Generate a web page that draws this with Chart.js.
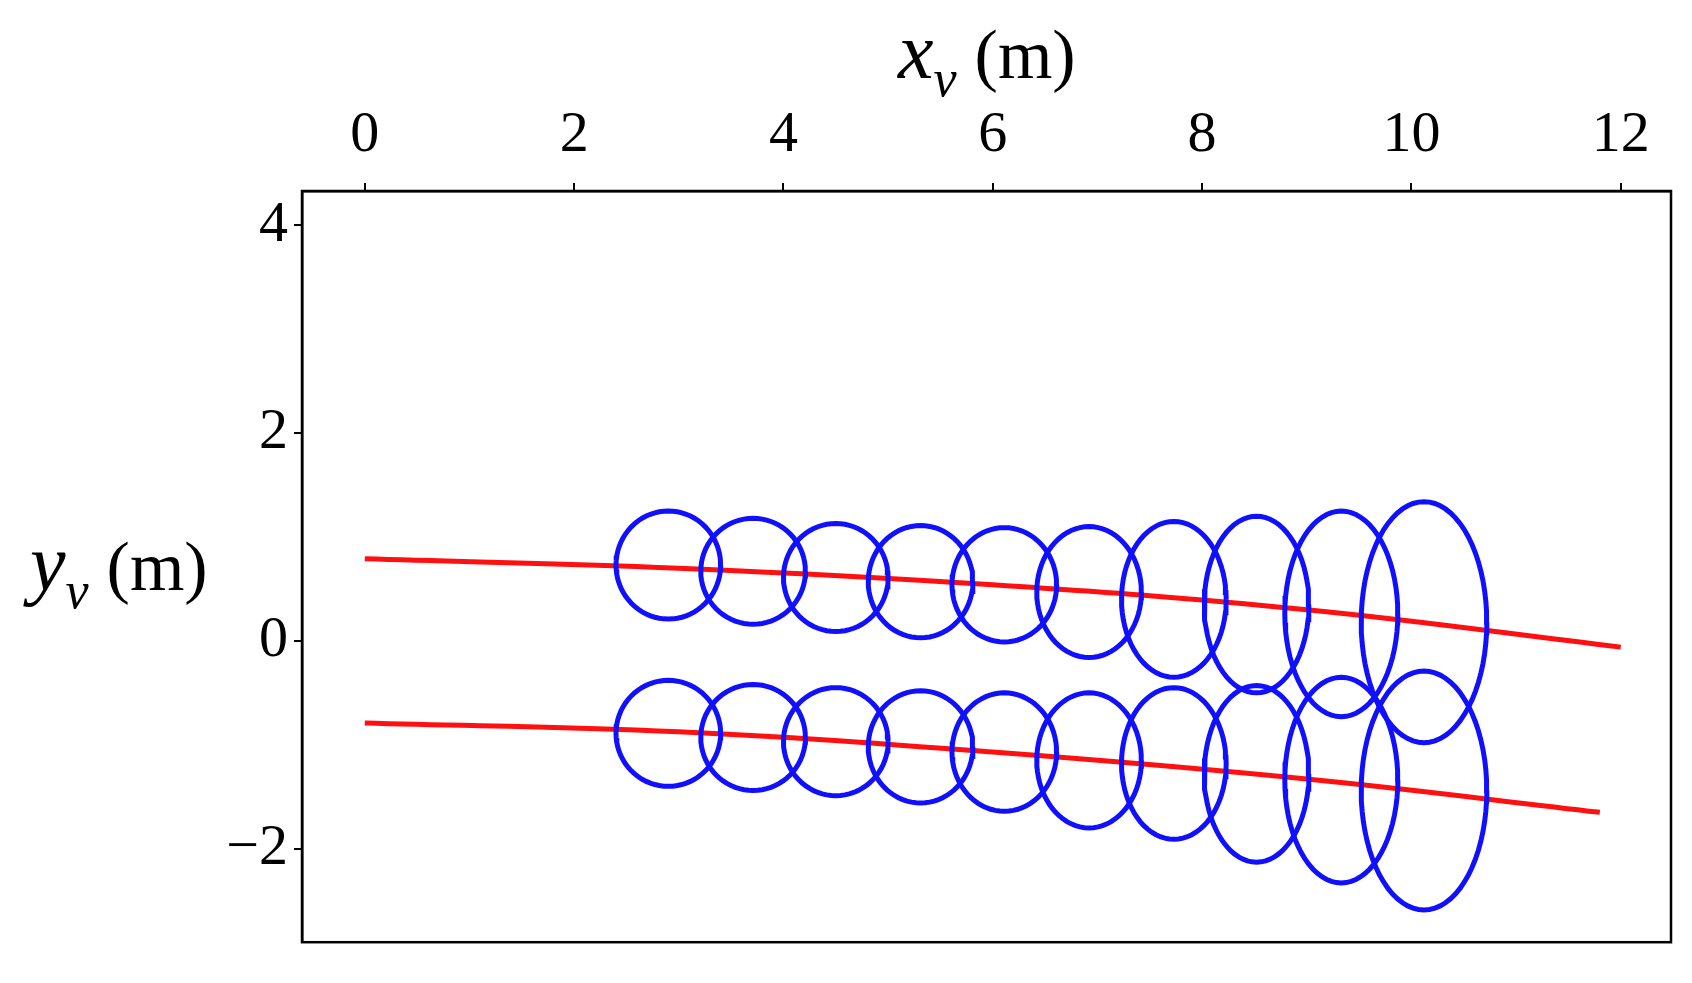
<!DOCTYPE html>
<html><head><meta charset="utf-8">
<script src="https://cdn.jsdelivr.net/npm/chart.js@4"></script>
<style>html,body{margin:0;background:#fff}#c{display:block}</style>
</head><body>
<canvas id="c" width="1692" height="983"></canvas>
<script>
// ellipse centres and half-axes (m), upper and lower rows
const upperCx = [2.90, 3.71, 4.50, 5.31, 6.11, 6.92, 7.73, 8.52, 9.33, 10.12];
const upperCy = [0.73, 0.67, 0.61, 0.57, 0.54, 0.47, 0.40, 0.35, 0.26, 0.18];
const upperRx = [0.50, 0.50, 0.50, 0.50, 0.50, 0.50, 0.50, 0.50, 0.54, 0.60];
const upperRy = [0.52, 0.51, 0.52, 0.54, 0.55, 0.63, 0.75, 0.85, 0.99, 1.16];
const lowerCx = [2.90, 3.71, 4.50, 5.31, 6.11, 6.92, 7.73, 8.52, 9.33, 10.12];
const lowerCy = [-0.89, -0.93, -0.97, -1.02, -1.07, -1.15, -1.18, -1.28, -1.34, -1.44];
const lowerRx = [0.50, 0.50, 0.50, 0.50, 0.50, 0.50, 0.50, 0.50, 0.54, 0.60];
const lowerRy = [0.51, 0.51, 0.52, 0.54, 0.57, 0.65, 0.73, 0.85, 0.99, 1.15];
// red trajectories
const upperLineX = [0, 3, 6, 9, 12];
const upperLineY = [0.79, 0.70, 0.54, 0.30, -0.06];
const lowerLineX = [0, 3, 6, 9, 11.8];
const lowerLineY = [-0.79, -0.875, -1.07, -1.33, -1.65];
const xTicks = [0, 2, 4, 6, 8, 10, 12];
const yTicks = [-2, 0, 2, 4];

function ellipse(cx, cy, rx, ry) {
  const pts = [];
  for (let i = 0; i <= 72; i++) {
    const t = i / 72 * 2 * Math.PI;
    pts.push({x: cx + rx * Math.cos(t), y: cy + ry * Math.sin(t)});
  }
  return pts;
}

const datasets = [];
[[upperCx, upperCy, upperRx, upperRy], [lowerCx, lowerCy, lowerRx, lowerRy]].forEach(([cx, cy, rx, ry]) => {
  cx.forEach((v, i) => datasets.push({
    data: ellipse(v, cy[i], rx[i], ry[i]),
    borderColor: '#1010ff', borderWidth: 5, showLine: true, pointRadius: 0, tension: 0
  }));
});
[[upperLineX, upperLineY], [lowerLineX, lowerLineY]].forEach(([xs, ys]) => datasets.push({
  data: xs.map((x, i) => ({x, y: ys[i]})),
  borderColor: '#ff1010', borderWidth: 5, showLine: true, pointRadius: 0, tension: 0.4
}));

const font = {family: '"Liberation Serif", "DejaVu Serif", serif', size: 58};

const extras = {
  id: 'extras',
  afterDraw(chart) {
    const {ctx, chartArea: a} = chart;
    ctx.save();
    ctx.strokeStyle = '#000';
    ctx.lineWidth = 2.5;
    ctx.strokeRect(a.left, a.top, a.right - a.left, a.bottom - a.top);
    ctx.fillStyle = '#000';
    ctx.textBaseline = 'alphabetic';
    const label = (x, y, v) => {
      ctx.font = 'italic 80px "Liberation Serif", serif';
      ctx.fillText(v, x, y);
      let w = ctx.measureText(v).width;
      ctx.font = 'italic 52px "Liberation Serif", serif';
      ctx.fillText('v', x + w, y + 18);
      w += ctx.measureText('v').width + 18;
      ctx.font = '70px "Liberation Serif", serif';
      ctx.fillText('(m)', x + w, y);
    };
    label(898, 78, 'x');
    label(30, 590, 'y');
    ctx.restore();
  }
};

new Chart(document.getElementById('c'), {
  type: 'scatter',
  data: {datasets},
  plugins: [extras],
  options: {
    responsive: false, animation: false,
    layout: {padding: {left: 192, top: 101, right: 21, bottom: 39}},
    plugins: {legend: {display: false}, tooltip: {enabled: false}},
    scales: {
      x: {
        type: 'linear', position: 'top', min: -0.6, max: 12.48,
        afterBuildTicks: s => { s.ticks = xTicks.map(v => ({value: v})); },
        afterFit: s => { s.height = 90; },
        grid: {drawOnChartArea: false, tickLength: 8, color: '#000', lineWidth: 2},
        border: {color: '#000', width: 2.5},
        ticks: {color: '#000', font, padding: 12, maxRotation: 0}
      },
      y: {
        type: 'linear', min: -2.9, max: 4.33,
        afterBuildTicks: s => { s.ticks = yTicks.map(v => ({value: v})); },
        afterFit: s => { s.width = 110; },
        grid: {drawOnChartArea: false, tickLength: 8, color: '#000', lineWidth: 2},
        border: {color: '#000', width: 2.5},
        ticks: {color: '#000', font, padding: 6, callback: v => v < 0 ? '\u2212' + Math.abs(v) : v}
      }
    }
  }
});
</script>
</body></html>
